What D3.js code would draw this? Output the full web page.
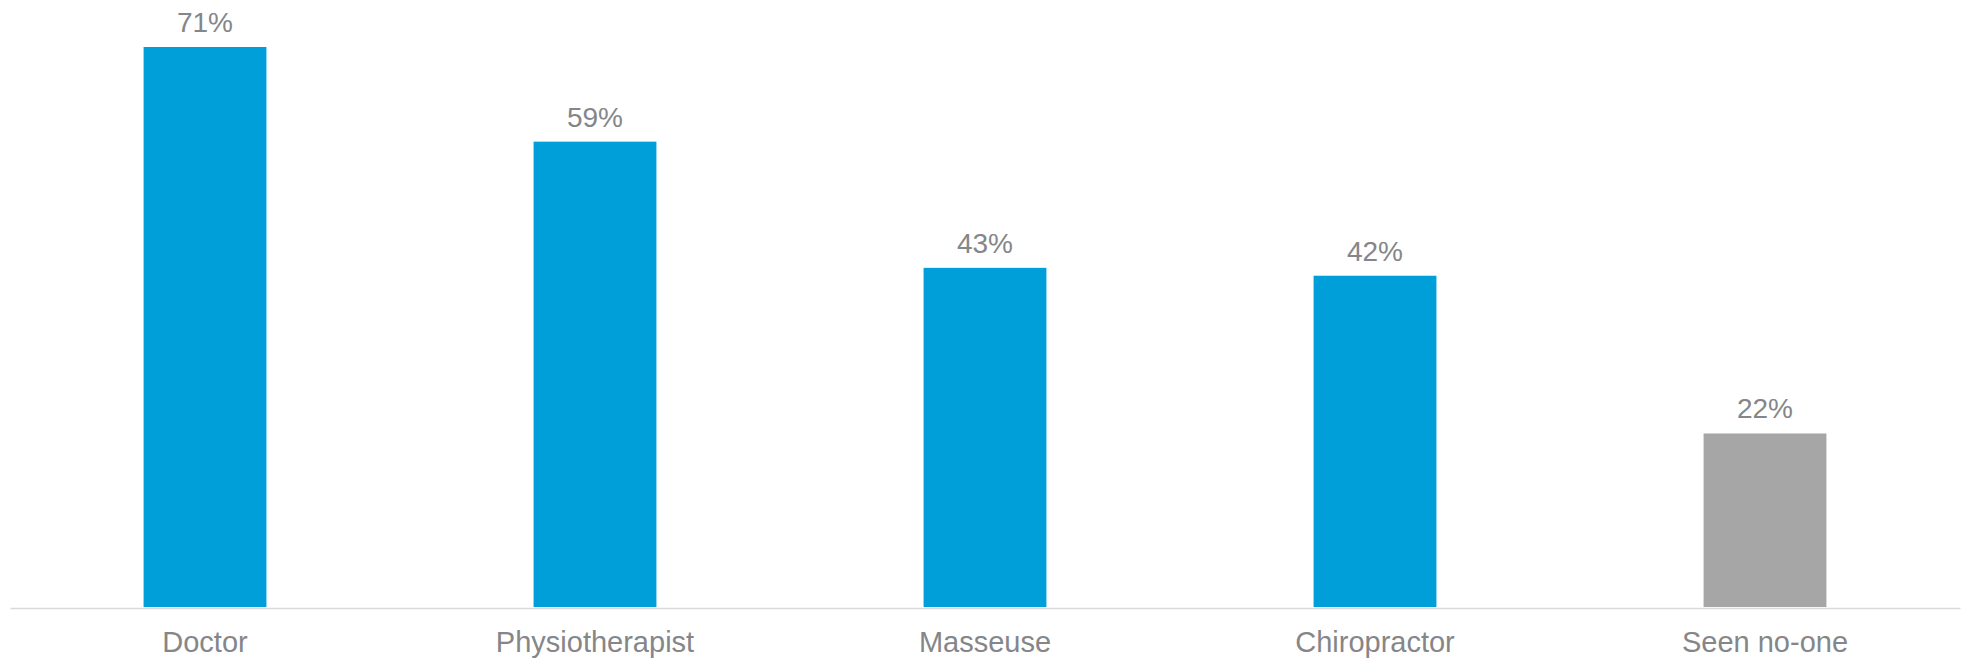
<!DOCTYPE html>
<html>
<head>
<meta charset="utf-8">
<script src="https://cdn.jsdelivr.net/npm/d3@7"></script>
<style>
  html, body { margin: 0; padding: 0; background: #fff; }
  svg { display: block; }
  text { font-family: "Liberation Sans", Arial, Helvetica, sans-serif; }
</style>
</head>
<body>
<svg id="chart" width="1968" height="659"></svg>
<script>
const categories = ["Doctor", "Physiotherapist", "Masseuse", "Chiropractor", "Seen no-one"];
const values = [71, 59, 43, 42, 22];
const valueLabels = ["71%", "59%", "43%", "42%", "22%"];
const barColors = ["#009fda", "#009fda", "#009fda", "#009fda", "#a6a6a6"];

const svg = d3.select("#chart");
const baseline = 607;

const x = d3.scaleBand()
  .domain(categories)
  .range([10, 1960])
  .paddingInner(0.685)
  .paddingOuter(0.3425);

const y = d3.scaleLinear()
  .domain([0, 71])
  .range([baseline, 47]);

// bars
svg.selectAll("rect.bar")
  .data(categories)
  .enter().append("rect")
  .attr("class", "bar")
  .attr("x", d => x(d))
  .attr("width", x.bandwidth())
  .attr("y", (d, i) => y(values[i]))
  .attr("height", (d, i) => y(0) - y(values[i]))
  .attr("fill", (d, i) => barColors[i]);

// x axis
const xAxis = d3.axisBottom(x).tickSize(0).tickPadding(0);
const gx = svg.append("g")
  .attr("transform", `translate(0,${baseline + 1})`)
  .call(xAxis);
gx.select(".domain").attr("stroke", "#d9d9d9").attr("stroke-width", 1.5);
gx.selectAll(".tick text")
  .attr("y", 44)
  .attr("dy", null)
  .attr("fill", "#858689")
  .style("font-size", "29px");

// value labels
svg.selectAll("text.val")
  .data(categories)
  .enter().append("text")
  .attr("class", "val")
  .attr("x", d => x(d) + x.bandwidth() / 2)
  .attr("y", (d, i) => y(values[i]) - 15)
  .attr("text-anchor", "middle")
  .attr("fill", "#858689")
  .style("font-size", "28px")
  .text((d, i) => valueLabels[i]);
</script>
</body>
</html>
